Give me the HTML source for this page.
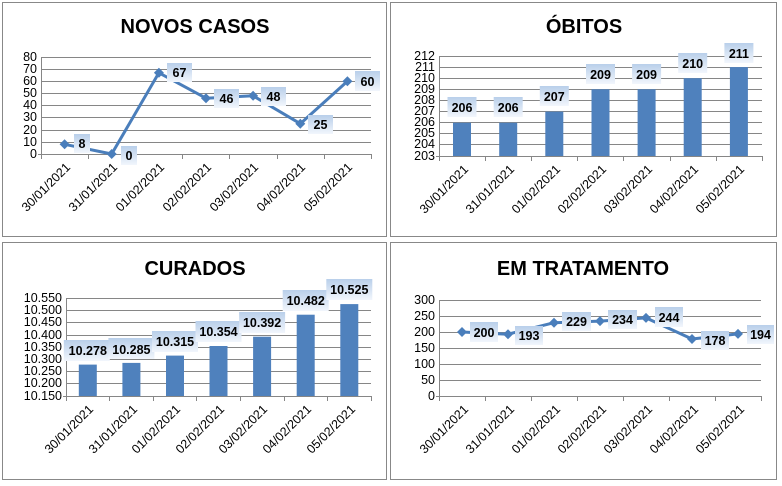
<!DOCTYPE html>
<html><head><meta charset="utf-8"><style>
html,body{margin:0;padding:0;background:#fff}
svg{display:block}
text{font-family:"Liberation Sans",sans-serif}
.t{font-size:20px;font-weight:bold;text-anchor:middle}
.y{font-size:12.5px;text-anchor:end}
.x{font-size:12.5px;text-anchor:end}
.l{font-size:12.5px;font-weight:bold;text-anchor:middle}
.g{stroke:#868686;stroke-width:1}
.s{fill:none;stroke:#4a7ebb;stroke-width:3;stroke-linejoin:round}
.b{fill:#4f81bd}
.bx{fill:url(#lg)}
</style></head><body>
<svg width="782" height="486" viewBox="0 0 782 486" xmlns="http://www.w3.org/2000/svg">
<defs>
<linearGradient id="lg" x1="0" y1="0" x2="0" y2="1"><stop offset="0" stop-color="#b9cfea"/><stop offset="1" stop-color="#f2f6fc"/></linearGradient>
<path id="d" d="M0,-5 L5,0 L0,5 L-5,0Z" fill="#4a7ebb"/>
</defs>
<rect x="2.5" y="2.5" width="384" height="234" fill="#fff" stroke="#888"/>
<rect x="390.5" y="2.5" width="386" height="234" fill="#fff" stroke="#888"/>
<rect x="2.5" y="242.5" width="384" height="237" fill="#fff" stroke="#888"/>
<rect x="390.5" y="242.5" width="386" height="237" fill="#fff" stroke="#888"/>

<!-- Panel 1 -->
<text class="t" x="195" y="33">NOVOS CASOS</text>
<g class="g">
<line x1="41" x2="371" y1="57.5" y2="57.5"/><line x1="41" x2="371" y1="69.5" y2="69.5"/><line x1="41" x2="371" y1="81.5" y2="81.5"/><line x1="41" x2="371" y1="93.5" y2="93.5"/><line x1="41" x2="371" y1="105.5" y2="105.5"/><line x1="41" x2="371" y1="117.5" y2="117.5"/><line x1="41" x2="371" y1="130.5" y2="130.5"/><line x1="41" x2="371" y1="142.5" y2="142.5"/><line x1="38" x2="371" y1="154.5" y2="154.5"/>
<line x1="41.5" x2="41.5" y1="57" y2="159"/>
<line x1="88.5" x2="88.5" y1="154" y2="159"/><line x1="135.5" x2="135.5" y1="154" y2="159"/><line x1="182.5" x2="182.5" y1="154" y2="159"/><line x1="229.5" x2="229.5" y1="154" y2="159"/><line x1="277.5" x2="277.5" y1="154" y2="159"/><line x1="324.5" x2="324.5" y1="154" y2="159"/><line x1="371.5" x2="371.5" y1="154" y2="159"/>
</g>
<g class="y"><text x="37" y="61">80</text><text x="37" y="73">70</text><text x="37" y="85">60</text><text x="37" y="97">50</text><text x="37" y="109">40</text><text x="37" y="121">30</text><text x="37" y="134">20</text><text x="37" y="146">10</text><text x="37" y="158">0</text></g>
<g class="x">
<text transform="translate(71,168) rotate(-45)">30/01/2021</text><text transform="translate(118,168) rotate(-45)">31/01/2021</text><text transform="translate(165,168) rotate(-45)">01/02/2021</text><text transform="translate(212,168) rotate(-45)">02/02/2021</text><text transform="translate(259,168) rotate(-45)">03/02/2021</text><text transform="translate(306,168) rotate(-45)">04/02/2021</text><text transform="translate(353,168) rotate(-45)">05/02/2021</text>
</g>
<polyline class="s" points="64.6,144.3 111.7,154 158.9,72.8 206,98.2 253.1,95.8 300.3,123.7 347.4,81.3"/>
<use href="#d" x="64.6" y="144.3"/><use href="#d" x="111.7" y="154"/><use href="#d" x="158.9" y="72.8"/><use href="#d" x="206" y="98.2"/><use href="#d" x="253.1" y="95.8"/><use href="#d" x="300.3" y="123.7"/><use href="#d" x="347.4" y="81.3"/>
<rect class="bx" x="74" y="134" width="16" height="19"/><text class="l" x="82" y="148">8</text>
<rect class="bx" x="121" y="146" width="16" height="19"/><text class="l" x="129" y="160">0</text>
<rect class="bx" x="167" y="63" width="25" height="19"/><text class="l" x="179.5" y="77">67</text>
<rect class="bx" x="214" y="89" width="25" height="19"/><text class="l" x="226.5" y="103">46</text>
<rect class="bx" x="261" y="87" width="25" height="19"/><text class="l" x="273.5" y="101">48</text>
<rect class="bx" x="308" y="115" width="25" height="19"/><text class="l" x="320.5" y="129">25</text>
<rect class="bx" x="355" y="71" width="25" height="20"/><text class="l" x="367.5" y="86">60</text>

<!-- Panel 2 -->
<text class="t" x="584" y="33">ÓBITOS</text>
<g class="g">
<line x1="439" x2="762" y1="56.5" y2="56.5"/><line x1="439" x2="762" y1="67.5" y2="67.5"/><line x1="439" x2="762" y1="78.5" y2="78.5"/><line x1="439" x2="762" y1="89.5" y2="89.5"/><line x1="439" x2="762" y1="100.5" y2="100.5"/><line x1="439" x2="762" y1="111.5" y2="111.5"/><line x1="439" x2="762" y1="122.5" y2="122.5"/><line x1="439" x2="762" y1="133.5" y2="133.5"/><line x1="439" x2="762" y1="144.5" y2="144.5"/><line x1="436" x2="762" y1="156.5" y2="156.5"/>
<line x1="439.5" x2="439.5" y1="56" y2="161"/>
<line x1="485.5" x2="485.5" y1="156" y2="161"/><line x1="531.5" x2="531.5" y1="156" y2="161"/><line x1="577.5" x2="577.5" y1="156" y2="161"/><line x1="623.5" x2="623.5" y1="156" y2="161"/><line x1="670.5" x2="670.5" y1="156" y2="161"/><line x1="716.5" x2="716.5" y1="156" y2="161"/><line x1="762.5" x2="762.5" y1="156" y2="161"/>
</g>
<g class="y"><text x="435" y="60">212</text><text x="435" y="71">211</text><text x="435" y="82">210</text><text x="435" y="93">209</text><text x="435" y="104">208</text><text x="435" y="115">207</text><text x="435" y="126">206</text><text x="435" y="137">205</text><text x="435" y="148">204</text><text x="435" y="160">203</text></g>
<g class="x">
<text transform="translate(469,170) rotate(-45)">30/01/2021</text><text transform="translate(515,170) rotate(-45)">31/01/2021</text><text transform="translate(561,170) rotate(-45)">01/02/2021</text><text transform="translate(607,170) rotate(-45)">02/02/2021</text><text transform="translate(653,170) rotate(-45)">03/02/2021</text><text transform="translate(699,170) rotate(-45)">04/02/2021</text><text transform="translate(745,170) rotate(-45)">05/02/2021</text>
</g>
<rect class="b" x="453" y="122.7" width="18" height="33.3"/><rect class="b" x="499.2" y="122.7" width="18" height="33.3"/><rect class="b" x="545.3" y="111.6" width="18" height="44.4"/><rect class="b" x="591.5" y="89.3" width="18" height="66.7"/><rect class="b" x="637.6" y="89.3" width="18" height="66.7"/><rect class="b" x="683.7" y="78.2" width="18" height="77.8"/><rect class="b" x="729.9" y="67.1" width="18" height="88.9"/>
<rect class="bx" x="447.5" y="97" width="29" height="20"/><text class="l" x="462" y="112">206</text>
<rect class="bx" x="493.7" y="97" width="29" height="20"/><text class="l" x="508.2" y="112">206</text>
<rect class="bx" x="539.8" y="86" width="29" height="20"/><text class="l" x="554.3" y="101">207</text>
<rect class="bx" x="586" y="64" width="29" height="20"/><text class="l" x="600.5" y="79">209</text>
<rect class="bx" x="632.1" y="64" width="29" height="20"/><text class="l" x="646.6" y="79">209</text>
<rect class="bx" x="678.2" y="53" width="29" height="20"/><text class="l" x="692.7" y="68">210</text>
<rect class="bx" x="724.4" y="43" width="29" height="20"/><text class="l" x="738.9" y="58">211</text>

<!-- Panel 3 -->
<text class="t" x="195" y="275">CURADOS</text>
<g class="g">
<line x1="66" x2="371" y1="298.5" y2="298.5"/><line x1="66" x2="371" y1="310.5" y2="310.5"/><line x1="66" x2="371" y1="322.5" y2="322.5"/><line x1="66" x2="371" y1="335.5" y2="335.5"/><line x1="66" x2="371" y1="347.5" y2="347.5"/><line x1="66" x2="371" y1="359.5" y2="359.5"/><line x1="66" x2="371" y1="371.5" y2="371.5"/><line x1="66" x2="371" y1="383.5" y2="383.5"/><line x1="63" x2="371" y1="396.5" y2="396.5"/>
<line x1="66.5" x2="66.5" y1="298" y2="401"/>
<line x1="109.5" x2="109.5" y1="396" y2="401"/><line x1="153.5" x2="153.5" y1="396" y2="401"/><line x1="196.5" x2="196.5" y1="396" y2="401"/><line x1="240.5" x2="240.5" y1="396" y2="401"/><line x1="284.5" x2="284.5" y1="396" y2="401"/><line x1="327.5" x2="327.5" y1="396" y2="401"/><line x1="371.5" x2="371.5" y1="396" y2="401"/>
</g>
<g class="y"><text x="62" y="302">10.550</text><text x="62" y="314">10.500</text><text x="62" y="326">10.450</text><text x="62" y="339">10.400</text><text x="62" y="351">10.350</text><text x="62" y="363">10.300</text><text x="62" y="375">10.250</text><text x="62" y="387">10.200</text><text x="62" y="400">10.150</text></g>
<g class="x">
<text transform="translate(94,410) rotate(-45)">30/01/2021</text><text transform="translate(138,410) rotate(-45)">31/01/2021</text><text transform="translate(181,410) rotate(-45)">01/02/2021</text><text transform="translate(225,410) rotate(-45)">02/02/2021</text><text transform="translate(268,410) rotate(-45)">03/02/2021</text><text transform="translate(312,410) rotate(-45)">04/02/2021</text><text transform="translate(356,410) rotate(-45)">05/02/2021</text>
</g>
<rect class="b" x="78.8" y="364.6" width="18" height="31.4"/><rect class="b" x="122.4" y="362.9" width="18" height="33.1"/><rect class="b" x="166" y="355.6" width="18" height="40.4"/><rect class="b" x="209.5" y="346" width="18" height="50"/><rect class="b" x="253.1" y="336.7" width="18" height="59.3"/><rect class="b" x="296.7" y="314.7" width="18" height="81.3"/><rect class="b" x="340.3" y="304.1" width="18" height="91.9"/>
<rect class="bx" x="63.8" y="340" width="46" height="21"/><text class="l" x="87.8" y="355">10.278</text>
<rect class="bx" x="108.4" y="338" width="46" height="21"/><text class="l" x="131.4" y="354">10.285</text>
<rect class="bx" x="152" y="331" width="46" height="21"/><text class="l" x="175" y="346">10.315</text>
<rect class="bx" x="195.5" y="321" width="46" height="21"/><text class="l" x="218.5" y="336">10.354</text>
<rect class="bx" x="239.1" y="312" width="46" height="21"/><text class="l" x="262.1" y="327">10.392</text>
<rect class="bx" x="282.7" y="290" width="46" height="21"/><text class="l" x="305.7" y="305">10.482</text>
<rect class="bx" x="326.3" y="279" width="46" height="21"/><text class="l" x="349.3" y="294">10.525</text>

<!-- Panel 4 -->
<text class="t" x="583" y="275">EM TRATAMENTO</text>
<g class="g">
<line x1="439" x2="761" y1="300.5" y2="300.5"/><line x1="439" x2="761" y1="316.5" y2="316.5"/><line x1="439" x2="761" y1="332.5" y2="332.5"/><line x1="439" x2="761" y1="348.5" y2="348.5"/><line x1="439" x2="761" y1="364.5" y2="364.5"/><line x1="439" x2="761" y1="380.5" y2="380.5"/><line x1="436" x2="761" y1="396.5" y2="396.5"/>
<line x1="439.5" x2="439.5" y1="300" y2="401"/>
<line x1="485.5" x2="485.5" y1="396" y2="401"/><line x1="531.5" x2="531.5" y1="396" y2="401"/><line x1="577.5" x2="577.5" y1="396" y2="401"/><line x1="623.5" x2="623.5" y1="396" y2="401"/><line x1="669.5" x2="669.5" y1="396" y2="401"/><line x1="715.5" x2="715.5" y1="396" y2="401"/><line x1="761.5" x2="761.5" y1="396" y2="401"/>
</g>
<g class="y"><text x="435" y="304">300</text><text x="435" y="320">250</text><text x="435" y="336">200</text><text x="435" y="352">150</text><text x="435" y="368">100</text><text x="435" y="384">50</text><text x="435" y="400">0</text></g>
<g class="x">
<text transform="translate(469,410) rotate(-45)">30/01/2021</text><text transform="translate(515,410) rotate(-45)">31/01/2021</text><text transform="translate(561,410) rotate(-45)">01/02/2021</text><text transform="translate(607,410) rotate(-45)">02/02/2021</text><text transform="translate(653,410) rotate(-45)">03/02/2021</text><text transform="translate(699,410) rotate(-45)">04/02/2021</text><text transform="translate(745,410) rotate(-45)">05/02/2021</text>
</g>
<polyline class="s" points="462,332 508,334.2 554,322.7 600,321.1 646,317.9 692,339 738,333.9"/>
<use href="#d" x="462" y="332"/><use href="#d" x="508" y="334.2"/><use href="#d" x="554" y="322.7"/><use href="#d" x="600" y="321.1"/><use href="#d" x="646" y="317.9"/><use href="#d" x="692" y="339"/><use href="#d" x="738" y="333.9"/>
<rect class="bx" x="470" y="322" width="28" height="20"/><text class="l" x="484" y="337">200</text>
<rect class="bx" x="515" y="326" width="28" height="19"/><text class="l" x="529" y="340">193</text>
<rect class="bx" x="562" y="312" width="29" height="19"/><text class="l" x="576.5" y="326">229</text>
<rect class="bx" x="608" y="310" width="29" height="19"/><text class="l" x="622.5" y="324">234</text>
<rect class="bx" x="655" y="307" width="28" height="20"/><text class="l" x="669" y="322">244</text>
<rect class="bx" x="701" y="331" width="28" height="19"/><text class="l" x="715" y="345">178</text>
<rect class="bx" x="747" y="325" width="27" height="19"/><text class="l" x="760.5" y="339">194</text>
</svg>
</body></html>
